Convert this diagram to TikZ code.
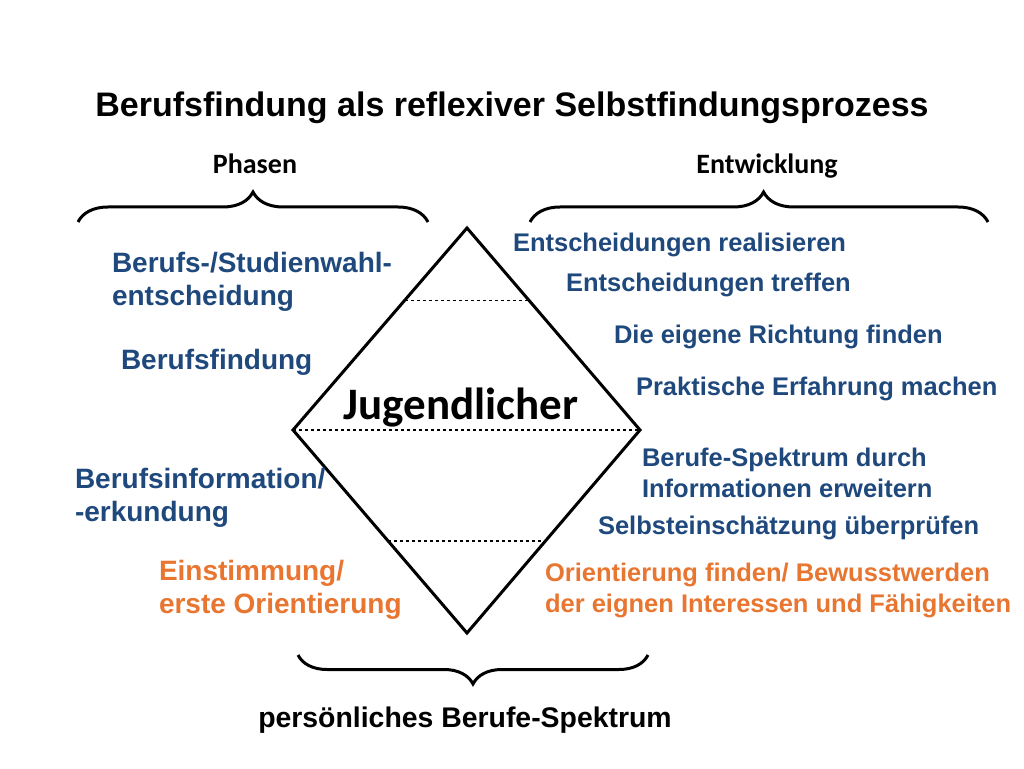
\documentclass[tikz,border=0pt]{standalone}
\usepackage{fontspec}
\setmainfont{Liberation Sans}
\newfontfamily\calibri{Carlito}
\usetikzlibrary{calc,decorations.pathreplacing}
\definecolor{phaseblue}{RGB}{31,73,125}
\definecolor{phaseorange}{RGB}{232,118,48}
\begin{document}
\begin{tikzpicture}[x=1pt,y=1pt,
  every node/.style={inner sep=0pt,outer sep=0pt},
  lefttext/.style={text=phaseblue,font=\bfseries\fontsize{28}{33}\selectfont,align=left,anchor=base west},
  righttext/.style={text=phaseblue,font=\bfseries\fontsize{25.5}{31}\selectfont,align=left,anchor=base west},
  head/.style={font=\calibri\bfseries\fontsize{28}{33}\selectfont,anchor=base},
  curly/.style={decorate,decoration={brace,amplitude=#1},line width=3pt},
  edge/.style={line width=3pt,line join=miter}]
\fill[white] (0,0) rectangle (1024,768);
\useasboundingbox (0,0) rectangle (1024,768);
\node[font=\bfseries\fontsize{34}{40}\selectfont,anchor=base] (title) at (512,651) {Berufsfindung als reflexiver Selbstfindungsprozess};
\node[head] (phasen) at (255,594) {Phasen};
\node[head] (entw) at (767,594) {Entwicklung};
\coordinate (lb1) at (78,546);
\coordinate (lb2) at (428,546);
\coordinate (rb1) at (530,546);
\coordinate (rb2) at (988,546);
\coordinate (bb1) at (648,113);
\coordinate (bb2) at (298,113);
\draw[curly=30pt] (lb1) -- (lb2);
\draw[curly=30pt,decoration={aspect=0.51}] (rb1) -- (rb2);
\draw[curly=29pt] (bb1) -- (bb2);
\coordinate (top) at (467,540);
\coordinate (left) at (293,338);
\coordinate (right) at (640,338);
\coordinate (bottom) at (467,135);
\draw[edge] (top) -- (right) -- (bottom) -- (left) -- cycle;
\draw[dashed,line width=1.2pt] ($(top)!0.357!(left)$) -- ($(top)!0.357!(right)$);
\draw[dashed,line width=1.2pt] (left) -- (right);
\draw[dashed,line width=1.2pt] ($(left)!0.547!(bottom)$) -- ($(right)!0.547!(bottom)$);
\node[font=\calibri\bfseries\fontsize{45}{50}\selectfont,anchor=base] (jug) at (461,348) {Jugendlicher};
\node[lefttext] (wahl) at (112,462) {Berufs-/Studienwahl-\\entscheidung};
\node[lefttext] (findung) at (121,398) {Berufsfindung};
\node[lefttext] (info) at (75,246) {Berufsinformation/\\-erkundung};
\node[lefttext,text=phaseorange] (einst) at (159,154) {Einstimmung/\\erste Orientierung};
\node[righttext] (real) at (513,516) {Entscheidungen realisieren};
\node[righttext] (treffen) at (566,476) {Entscheidungen treffen};
\node[righttext] (richtung) at (614,424) {Die eigene Richtung finden};
\node[righttext] (praxis) at (636,372) {Praktische Erfahrung machen};
\node[righttext] (spektrum) at (642,270) {Berufe-Spektrum durch\\Informationen erweitern};
\node[righttext] (selbst) at (598,233) {Selbsteinschätzung überprüfen};
\node[righttext,text=phaseorange] (orient) at (545,156) {Orientierung finden/ Bewusstwerden\\der eignen Interessen und Fähigkeiten};
\node[font=\bfseries\fontsize{28.4}{33}\selectfont,anchor=base] (pers) at (465,41) {persönliches Berufe-Spektrum};
\end{tikzpicture}
\end{document}
